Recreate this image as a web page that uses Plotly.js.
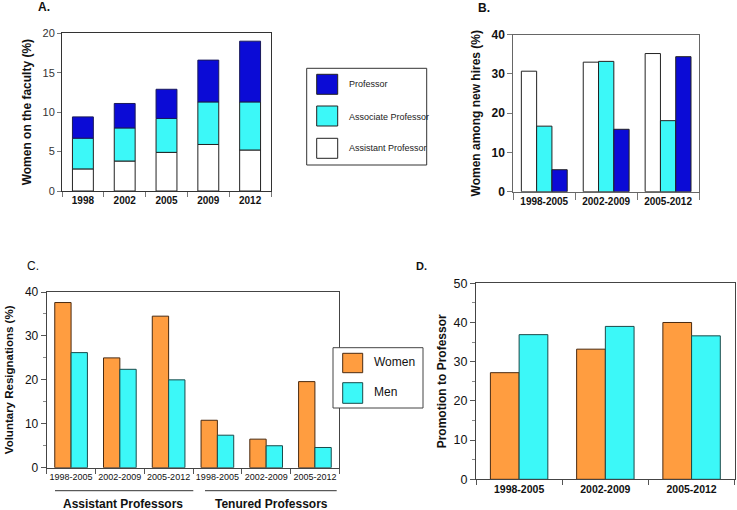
<!DOCTYPE html>
<html>
<head>
<meta charset="utf-8">
<script src="https://cdn.plot.ly/plotly-3.0.1.min.js"></script>
<style>html,body{margin:0;padding:0;background:#fff;}#chart{width:737px;height:510px;}</style>
</head>
<body>
<div id="chart"></div>
<script>
// ---- Data ----
const facultyYears = ['1998', '2002', '2005', '2009', '2012'];
const facultyAssistant = [2.8, 3.8, 4.9, 5.9, 5.2];
const facultyAssociate = [3.9, 4.2, 4.3, 5.4, 6.1];
const facultyProfessor = [2.7, 3.1, 3.7, 5.3, 7.7];

const hirePeriods = ['1998-2005', '2002-2009', '2005-2012'];
const hiresAssistant = [30.7, 33.0, 35.2];
const hiresAssociate = [16.7, 33.2, 18.1];
const hiresProfessor = [5.6, 15.9, 34.4];

const resignPeriods = ['1998-2005', '2002-2009', '2005-2012', '1998-2005', '2002-2009', '2005-2012'];
const resignWomen = [37.6, 25.0, 34.5, 10.8, 6.5, 19.6];
const resignMen = [26.2, 22.4, 20.0, 7.4, 5.0, 4.6];
const resignGroups = ['Assistant Professors', 'Tenured Professors'];

const promoPeriods = ['1998-2005', '2002-2009', '2005-2012'];
const promoWomen = [27.2, 33.2, 40.0];
const promoMen = [36.9, 39.0, 36.6];

const rankNames = ['Professor', 'Associate Professor', 'Assistant Professor'];
const sexNames = ['Women', 'Men'];

// ---- Styles ----
const FONT = 'Liberation Sans, Arial, Helvetica, sans-serif';
const BLUE = '#0b0bd6', CYAN = '#3cf8f8', WHITE = '#ffffff', ORANGE = '#ff9d40';
const W = 737, H = 510;
const px = v => v / W, py = v => 1 - v / H;

const base2 = facultyAssistant.map((v, i) => v + facultyAssociate[i]);
const outline = {color: '#222', width: 1};

const traces = [
  {type: 'bar', x: facultyYears, y: facultyAssistant, base: facultyAssistant.map(() => 0),
   width: 0.5, offset: -0.25, marker: {color: WHITE, line: outline}, xaxis: 'x', yaxis: 'y', showlegend: false, name: rankNames[2]},
  {type: 'bar', x: facultyYears, y: facultyAssociate, base: facultyAssistant,
   width: 0.5, offset: -0.25, marker: {color: CYAN, line: outline}, xaxis: 'x', yaxis: 'y', showlegend: false, name: rankNames[1]},
  {type: 'bar', x: facultyYears, y: facultyProfessor, base: base2,
   width: 0.5, offset: -0.25, marker: {color: BLUE, line: {color: '#1a1a5a', width: 1}}, xaxis: 'x', yaxis: 'y', showlegend: false, name: rankNames[0]},

  {type: 'bar', x: hirePeriods, y: hiresAssistant, width: 0.247, offset: -0.37,
   marker: {color: WHITE, line: outline}, xaxis: 'x2', yaxis: 'y2', showlegend: false, name: rankNames[2]},
  {type: 'bar', x: hirePeriods, y: hiresAssociate, width: 0.247, offset: -0.123,
   marker: {color: CYAN, line: outline}, xaxis: 'x2', yaxis: 'y2', showlegend: false, name: rankNames[1]},
  {type: 'bar', x: hirePeriods, y: hiresProfessor, width: 0.247, offset: 0.124,
   marker: {color: BLUE, line: outline}, xaxis: 'x2', yaxis: 'y2', showlegend: false, name: rankNames[0]},

  {type: 'bar', x: resignPeriods.map((_, i) => i), y: resignWomen, width: 0.335, offset: -0.335,
   marker: {color: ORANGE, line: {color: '#4a2a10', width: 1}}, xaxis: 'x3', yaxis: 'y3', showlegend: false, name: sexNames[0]},
  {type: 'bar', x: resignPeriods.map((_, i) => i), y: resignMen, width: 0.335, offset: 0,
   marker: {color: CYAN, line: {color: '#1a4a4a', width: 1}}, xaxis: 'x3', yaxis: 'y3', showlegend: false, name: sexNames[1]},

  {type: 'bar', x: promoPeriods, y: promoWomen, width: 0.333, offset: -0.333,
   marker: {color: ORANGE, line: {color: '#4a2a10', width: 1}}, xaxis: 'x4', yaxis: 'y4', showlegend: false, name: sexNames[0]},
  {type: 'bar', x: promoPeriods, y: promoMen, width: 0.333, offset: 0,
   marker: {color: CYAN, line: {color: '#1a4a4a', width: 1}}, xaxis: 'x4', yaxis: 'y4', showlegend: false, name: sexNames[1]}
];

const bold = (size, color) => ({family: FONT, size: size, color: color || '#111', weight: 'bold'});
const reg = (size, color) => ({family: FONT, size: size, color: color || '#222'});
const note = (text, x, y, font, xanchor) => ({text: text, xref: 'paper', yref: 'paper', x: px(x), y: py(y),
  xanchor: xanchor || 'center', yanchor: 'middle', showarrow: false, font: font});

const layout = {
  width: W, height: H,
  margin: {l: 0, r: 0, t: 0, b: 0},
  paper_bgcolor: '#fff', plot_bgcolor: '#fff',
  barmode: 'overlay',
  showlegend: false,
  font: {family: FONT},
  // Panel A
  xaxis: {domain: [px(62), px(271)], anchor: 'y', type: 'category', tickson: 'boundaries',
    ticks: 'outside', ticklen: 5, tickcolor: '#777', showline: true, mirror: true, linecolor: '#333',
    tickfont: bold(10), showgrid: false, zeroline: false},
  yaxis: {domain: [py(191), py(33.3)], anchor: 'x', range: [0, 20], dtick: 5, ticks: 'outside',
    ticklen: 4, tickcolor: '#777', showline: true, mirror: true, linecolor: '#333',
    tickfont: reg(11, '#333'), showgrid: false, zeroline: false,
    title: {text: 'Women on the faculty (%)', font: bold(12), standoff: 8}},
  // Panel B
  xaxis2: {domain: [px(513.3), px(699)], anchor: 'y2', type: 'category', tickson: 'boundaries',
    ticks: 'outside', ticklen: 7, tickcolor: '#777', showline: true, mirror: true, linecolor: '#666',
    tickfont: bold(10), showgrid: false, zeroline: false},
  yaxis2: {domain: [py(191.7), py(34.7)], anchor: 'x2', range: [0, 40], dtick: 10, ticks: 'outside',
    ticklen: 5, tickcolor: '#777', showline: true, mirror: true, linecolor: '#666',
    tickfont: bold(12), showgrid: false, zeroline: false,
    title: {text: 'Women among new hires (%)', font: bold(12), standoff: 8}},
  // Panel C
  xaxis3: {domain: [px(46.7), px(339.3)], anchor: 'y3', range: [-0.5, 5.5],
    tickmode: 'array', tickvals: resignPeriods.map((_, i) => i), ticktext: resignPeriods, ticks: '',
    minor: {tick0: -0.5, dtick: 1, ticks: 'outside', ticklen: 5, tickcolor: '#555'},
    showline: true, mirror: true, linecolor: '#444', tickfont: reg(9, '#111'),
    showgrid: false, zeroline: false},
  yaxis3: {domain: [py(467.7), py(292)], anchor: 'x3', range: [0, 40], dtick: 10, ticks: 'outside',
    ticklen: 5, tickcolor: '#555', minor: {dtick: 5, ticks: 'outside', ticklen: 3, tickcolor: '#888'},
    showline: true, mirror: true, linecolor: '#444',
    tickfont: reg(12, '#111'), showgrid: false, zeroline: false,
    title: {text: 'Voluntary Resignations (%)', font: bold(11.5), standoff: 8}},
  // Panel D
  xaxis4: {domain: [px(476), px(734.7)], anchor: 'y4', type: 'category', tickson: 'boundaries',
    ticks: 'outside', ticklen: 5, tickcolor: '#555', showline: true, mirror: true, linecolor: '#444',
    tickfont: bold(10.5), showgrid: false, zeroline: false},
  yaxis4: {domain: [py(479.3), py(283.3)], anchor: 'x4', range: [0, 50], dtick: 10, ticks: 'outside',
    ticklen: 5, tickcolor: '#555', minor: {dtick: 5, ticks: 'outside', ticklen: 3, tickcolor: '#888'},
    showline: true, mirror: true, linecolor: '#444',
    tickfont: reg(12.5, '#111'), showgrid: false, zeroline: false,
    title: {text: 'Promotion to Professor', font: bold(12), standoff: 4}},
  shapes: [
    // Legend A/B
    {type: 'rect', xref: 'paper', yref: 'paper', x0: px(306.7), x1: px(426.7), y0: py(165), y1: py(68.3), line: {color: '#333', width: 1}, fillcolor: '#fff'},
    {type: 'rect', xref: 'paper', yref: 'paper', x0: px(316.7), x1: px(337.7), y0: py(94.3), y1: py(74.3), line: {color: '#222', width: 1}, fillcolor: BLUE},
    {type: 'rect', xref: 'paper', yref: 'paper', x0: px(316.7), x1: px(337.7), y0: py(126), y1: py(106), line: {color: '#222', width: 1}, fillcolor: CYAN},
    {type: 'rect', xref: 'paper', yref: 'paper', x0: px(316.7), x1: px(337.7), y0: py(158.3), y1: py(138.3), line: {color: '#222', width: 1}, fillcolor: WHITE},
    // Legend C/D
    {type: 'rect', xref: 'paper', yref: 'paper', x0: px(333), x1: px(423), y0: py(408), y1: py(347.7), line: {color: '#444', width: 1}, fillcolor: '#fff'},
    {type: 'rect', xref: 'paper', yref: 'paper', x0: px(342.7), x1: px(362.7), y0: py(372.7), y1: py(353.3), line: {color: '#4a2a10', width: 1}, fillcolor: ORANGE},
    {type: 'rect', xref: 'paper', yref: 'paper', x0: px(342.7), x1: px(362.7), y0: py(403.3), y1: py(382.7), line: {color: '#1a4a4a', width: 1}, fillcolor: CYAN},
    // Group underlines panel C
    {type: 'line', xref: 'paper', yref: 'paper', x0: px(55), x1: px(193.3), y0: py(490.7), y1: py(490.7), line: {color: '#333', width: 1}},
    {type: 'line', xref: 'paper', yref: 'paper', x0: px(205), x1: px(336.7), y0: py(490.7), y1: py(490.7), line: {color: '#333', width: 1}}
  ],
  annotations: [
    note('A.', 43.5, 7, bold(12)),
    note('B.', 484, 8, bold(12)),
    note('C.', 33, 266, reg(12, '#111')),
    note('D.', 422, 265.5, bold(11)),
    note(rankNames[0], 346.7, 84.3, reg(9, '#222'), 'left'),
    note(rankNames[1], 346.7, 116.7, reg(9, '#222'), 'left'),
    note(rankNames[2], 346.7, 148.3, reg(9, '#222'), 'left'),
    note(sexNames[0], 371.7, 361.7, reg(12, '#111'), 'left'),
    note(sexNames[1], 371.7, 391.7, reg(12, '#111'), 'left'),
    note(resignGroups[0], 123, 504, bold(12)),
    note(resignGroups[1], 271.7, 504, bold(12))
  ]
};

Plotly.newPlot('chart', traces, layout, {displayModeBar: false, staticPlot: true});
</script>
</body>
</html>
